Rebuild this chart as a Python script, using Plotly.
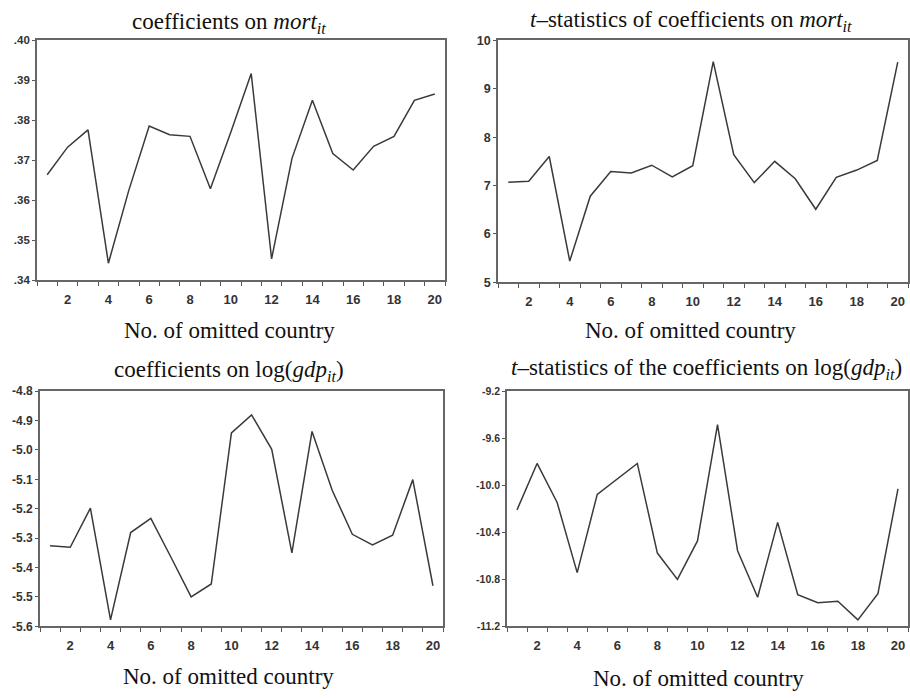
import plotly.graph_objects as go

countries = list(range(1, 21))

coef_mort = [0.3664, 0.3733, 0.3776, 0.3443, 0.3625, 0.3786, 0.3764, 0.3760, 0.3629, 0.3770,
             0.3917, 0.3454, 0.3705, 0.3850, 0.3717, 0.3676, 0.3735, 0.3760, 0.3850, 0.3866]
tstat_mort = [7.07, 7.09, 7.60, 5.44, 6.78, 7.29, 7.26, 7.42, 7.18, 7.41,
              9.56, 7.64, 7.06, 7.50, 7.14, 6.51, 7.17, 7.32, 7.52, 9.55]
coef_gdp = [-5.326, -5.331, -5.198, -5.578, -5.281, -5.233, -5.365, -5.500, -5.456, -4.942,
            -4.881, -4.998, -5.350, -4.937, -5.137, -5.287, -5.323, -5.290, -5.101, -5.462]
tstat_gdp = [-10.21, -9.815, -10.147, -10.743, -10.078, -9.948, -9.815, -10.577, -10.801, -10.474,
             -9.485, -10.557, -10.953, -10.316, -10.931, -11.00, -10.987, -11.145, -10.923, -10.031]

x_tick_vals = [2, 4, 6, 8, 10, 12, 14, 16, 18, 20]
x_tick_text = ["2", "4", "6", "8", "10", "12", "14", "16", "18", "20"]

y1_vals = [0.34, 0.35, 0.36, 0.37, 0.38, 0.39, 0.40]
y1_text = [".34", ".35", ".36", ".37", ".38", ".39", ".40"]
y2_vals = [5, 6, 7, 8, 9, 10]
y2_text = ["5", "6", "7", "8", "9", "10"]
y3_vals = [-5.6, -5.5, -5.4, -5.3, -5.2, -5.1, -5.0, -4.9, -4.8]
y3_text = ["-5.6", "-5.5", "-5.4", "-5.3", "-5.2", "-5.1", "-5.0", "-4.9", "-4.8"]
y4_vals = [-11.2, -10.8, -10.4, -10.0, -9.6, -9.2]
y4_text = ["-11.2", "-10.8", "-10.4", "-10.0", "-9.6", "-9.2"]

titles = ["coefficients on <i>mort</i><sub><i>it</i></sub>",
          "<i>t</i>–statistics of coefficients on <i>mort</i><sub><i>it</i></sub>",
          "coefficients on log(<i>gdp</i><sub><i>it</i></sub>)",
          "<i>t</i>–statistics of the coefficients on log(<i>gdp</i><sub><i>it</i></sub>)"]
xlabel = "No. of omitted country"

W, H = 910, 698
# plot boxes in pixels: left, right, top, bottom
boxes = [(37, 445, 34, 279), (498, 908, 34, 281), (40, 443, 392, 632), (507, 908, 392, 632)]
title_pos = [(229, 16), (691, 14), (229, 371), (706, 369)]
xtitle_pos = [(229, 330), (690, 330), (228, 683), (698, 685)]
series = [coef_mort, tstat_mort, coef_gdp, tstat_gdp]
yticks = [(y1_vals, y1_text, [0.34, 0.40], 11.5),
          (y2_vals, y2_text, [5, 10], 12.5),
          (y3_vals, y3_text, [-5.6, -4.8], 12),
          (y4_vals, y4_text, [-11.2, -9.2], 10.5)]

fig = go.Figure()
serif = "Liberation Serif"
sans = "Liberation Sans"
layout = dict(width=W, height=H, margin=dict(l=0, r=0, t=0, b=0),
              paper_bgcolor="white", plot_bgcolor="white", showlegend=False)
annotations = []
minor_vals = [i + 0.5 for i in range(0, 21)]

for k in range(4):
    l, r, t, b = boxes[k]
    xa = "xaxis" if k == 0 else f"xaxis{k+1}"
    ya = "yaxis" if k == 0 else f"yaxis{k+1}"
    xref = "x" if k == 0 else f"x{k+1}"
    yref = "y" if k == 0 else f"y{k+1}"
    fig.add_trace(go.Scatter(x=countries, y=series[k], mode="lines",
                             line=dict(color="#3a3a3a", width=1.5),
                             xaxis=xref, yaxis=yref))
    yv, yt, yr, yfs = yticks[k]
    layout[xa] = dict(domain=[l / W, r / W], anchor=yref, range=[0.5, 20.5],
                      tickmode="array", tickvals=x_tick_vals, ticktext=x_tick_text,
                      ticks="", ticklabelstandoff=6,
                      minor=dict(tickmode="array", tickvals=minor_vals, ticks="outside",
                                 ticklen=4, tickcolor="#555", tickwidth=1.2, showgrid=False),
                      showline=True, mirror=True, linecolor="#666", linewidth=1.8,
                      showgrid=False, zeroline=False,
                      tickfont=dict(family=sans, size=13, color="#333", weight="bold"))
    layout[ya] = dict(domain=[1 - b / H, 1 - t / H], anchor=xref, range=yr,
                      tickmode="array", tickvals=yv, ticktext=yt,
                      ticks="outside", ticklen=3, tickcolor="#555", tickwidth=1.2,
                      showline=True, mirror=True, linecolor="#666", linewidth=1.8,
                      showgrid=False, zeroline=False,
                      tickfont=dict(family=sans, size=yfs, color="#333", weight="bold"))
    tx, ty = title_pos[k]
    annotations.append(dict(text=titles[k], x=tx / W, y=1 - ty / H, xref="paper", yref="paper",
                            showarrow=False, xanchor="center", yanchor="middle",
                            font=dict(family=serif, size=23, color="#111")))
    ax, ay = xtitle_pos[k]
    annotations.append(dict(text=xlabel, x=ax / W, y=1 - ay / H, xref="paper", yref="paper",
                            showarrow=False, xanchor="center", yanchor="middle",
                            font=dict(family=serif, size=23, color="#111")))

layout["annotations"] = annotations
fig.update_layout(**layout)
fig.write_html("out.html", config={"displayModeBar": False},
               post_script="document.body.style.margin='0px';document.body.style.overflow='hidden';")
